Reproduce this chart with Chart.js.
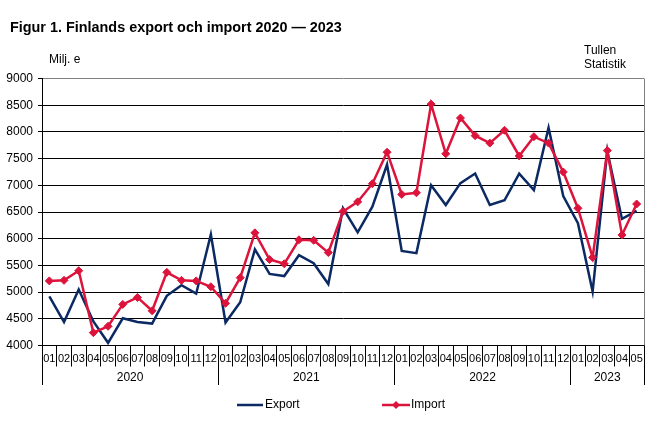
<!DOCTYPE html>
<html>
<head>
<meta charset="utf-8">
<script src="https://cdn.jsdelivr.net/npm/chart.js@4"></script>
<style>
html, body { margin: 0; background: #fff; }
canvas { display: block; }
</style>
</head>
<body>
<canvas id="chart" width="661" height="432"></canvas>
<script>
const months = ['01','02','03','04','05','06','07','08','09','10','11','12',
    '01','02','03','04','05','06','07','08','09','10','11','12',
    '01','02','03','04','05','06','07','08','09','10','11','12',
    '01','02','03','04','05'];
const years = ['2020', '2021', '2022', '2023'];
const yearLengths = [12, 12, 12, 5];
const exportValues = [4920,4440,5050,4450,4050,4510,4440,4410,4930,5130,4970,6080,
    4430,4810,5800,5340,5300,5690,5540,5150,6570,6120,6600,7390,
    5770,5730,7000,6630,7040,7220,6630,6720,7220,6910,8080,6800,
    6290,5010,7640,6370,6520];
const importValues = [5210,5220,5400,4240,4360,4770,4900,4650,5370,5220,5210,5100,
    4790,5270,6110,5610,5530,5980,5970,5740,6510,6690,7030,7620,
    6830,6860,8520,7590,8260,7930,7790,8030,7550,7910,7790,7250,
    6570,5650,7650,6070,6650];

const FONT = 'Arial, "Liberation Sans", sans-serif';
const NAVY = '#0b2a63';
const RED = '#dc143c';

// 見出し・年ラベル・凡例はチャートの外枠に直接描く
const decorations = {
    id: 'decorations',
    afterDraw(chart) {
        const ctx = chart.ctx;
        const x = chart.scales.x;
        const area = chart.chartArea;
        const step = x.getPixelForValue(1) - x.getPixelForValue(0);
        ctx.save();
        ctx.fillStyle = '#000';
        ctx.textBaseline = 'middle';

        ctx.font = 'bold 14.4px ' + FONT;
        ctx.fillText('Figur 1. Finlands export och import 2020 — 2023', 10, 28);
        ctx.font = '12px ' + FONT;
        ctx.fillText('Milj. e', 49, 60);
        ctx.fillText('Tullen', 584, 51);
        ctx.fillText('Statistik', 584, 65);

        // 右端の枠線
        ctx.strokeStyle = '#808080';
        ctx.beginPath();
        ctx.moveTo(area.right + 0.5, area.top);
        ctx.lineTo(area.right + 0.5, area.bottom);
        ctx.stroke();

        // 年の区切りと年ラベル
        ctx.strokeStyle = '#000';
        ctx.textAlign = 'center';
        let start = 0;
        years.forEach((year, i) => {
            const left = x.getPixelForValue(start) - step / 2;
            const right = left + yearLengths[i] * step;
            ctx.fillText(year, (left + right) / 2, 378);
            ctx.beginPath();
            ctx.moveTo(Math.round(left - 0.5) + 0.5, area.bottom);
            ctx.lineTo(Math.round(left - 0.5) + 0.5, 385);
            ctx.moveTo(Math.round(right - 0.5) + 0.5, area.bottom);
            ctx.lineTo(Math.round(right - 0.5) + 0.5, 385);
            ctx.stroke();
            start += yearLengths[i];
        });

        // 凡例
        ctx.textAlign = 'left';
        const legendY = 405;
        ctx.lineWidth = 2.5;
        ctx.strokeStyle = NAVY;
        ctx.beginPath();
        ctx.moveTo(237, legendY);
        ctx.lineTo(263, legendY);
        ctx.stroke();
        ctx.fillText('Export', 265, legendY);

        ctx.strokeStyle = RED;
        ctx.beginPath();
        ctx.moveTo(382, legendY);
        ctx.lineTo(410, legendY);
        ctx.stroke();
        ctx.fillStyle = RED;
        ctx.beginPath();
        ctx.moveTo(396, legendY - 4);
        ctx.lineTo(400, legendY);
        ctx.lineTo(396, legendY + 4);
        ctx.lineTo(392, legendY);
        ctx.closePath();
        ctx.fill();
        ctx.fillStyle = '#000';
        ctx.fillText('Import', 411, legendY);
        ctx.restore();
    }
};

new Chart(document.getElementById('chart').getContext('2d'), {
    type: 'line',
    data: {
        labels: months,
        datasets: [{
            label: 'Export',
            data: exportValues,
            borderColor: NAVY,
            borderWidth: 2.5,
            pointRadius: 0,
            tension: 0,
            order: 2
        }, {
            label: 'Import',
            data: importValues,
            borderColor: RED,
            backgroundColor: RED,
            borderWidth: 2.5,
            pointStyle: 'rectRot',
            pointRadius: 4,
            pointBorderWidth: 1,
            pointBackgroundColor: RED,
            pointBorderColor: RED,
            tension: 0,
            order: 1
        }]
    },
    options: {
        responsive: false,
        animation: false,
        layout: { padding: { top: 78.5, right: 17, left: 0, bottom: 0 } },
        plugins: {
            legend: { display: false },
            tooltip: { enabled: false }
        },
        scales: {
            x: {
                offset: true,
                afterFit(scale) { scale.height = 86.5; },
                border: { color: '#000', width: 1 },
                grid: {
                    offset: true,
                    drawOnChartArea: false,
                    tickLength: 21,
                    tickColor: '#000',
                    lineWidth: 1
                },
                ticks: {
                    autoSkip: false,
                    maxRotation: 0,
                    padding: -14,
                    color: '#000',
                    font: { family: FONT, size: 11 }
                }
            },
            y: {
                min: 4000,
                max: 9000,
                afterFit(scale) { scale.width = 42; },
                border: { color: '#000', width: 1 },
                grid: {
                    color: ctx => ctx.tick && ctx.tick.value === 9000 ? '#808080' : '#000',
                    tickColor: '#000',
                    tickLength: 4,
                    lineWidth: 1
                },
                ticks: {
                    stepSize: 500,
                    padding: 5,
                    color: '#000',
                    font: { family: FONT, size: 12 },
                    callback: value => String(value)
                }
            }
        }
    },
    plugins: [decorations]
});
</script>
</body>
</html>
